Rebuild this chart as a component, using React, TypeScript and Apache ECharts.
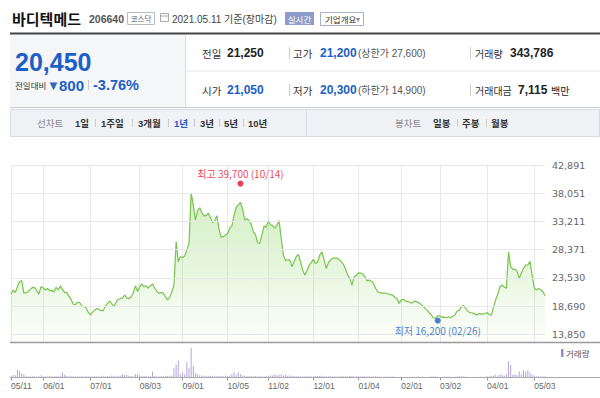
import React, { useEffect, useRef } from "react";
import * as echarts from "echarts";

// ---- data ----
const holidays = [
  "2020-08-17", "2020-09-30", "2020-10-01", "2020-10-02", "2020-10-09",
  "2020-12-25", "2020-12-31", "2021-01-01", "2021-02-11", "2021-02-12",
  "2021-03-01", "2021-05-05",
];
const tickDates = [
  "2020-05-11", "2020-06-01", "2020-07-01", "2020-08-03", "2020-09-01",
  "2020-10-05", "2020-11-02", "2020-12-01", "2021-01-04", "2021-02-01",
  "2021-03-02", "2021-04-01", "2021-05-03",
];
const priceTickLabels = [42891, 38051, 33211, 28371, 23530, 18690, 13850];

const closePrices = [
  20750, 21450, 21000, 22000, 22900, 23050, 20900, 21000, 21150, 21550,
  21900, 21850, 21350, 20750, 22000, 21800, 21450, 21700, 21350, 21400,
  21100, 21900, 21450, 22150, 21550, 21000, 21000, 20400, 19850, 19000,
  18950, 19350, 19300, 18700, 18600, 18400, 17650, 17200, 17650, 18000,
  18250, 18150, 17900, 17900, 18700, 19150, 19550, 19050, 18600, 19300,
  19850, 19950, 20100, 20550, 20100, 19950, 20300, 20900, 22150, 21200,
  22000, 22500, 22000, 22150, 21800, 22150, 22500, 21800, 21200, 20900,
  21000, 20900, 20300, 19750, 20200, 21150, 22300, 29750, 26300, 27150,
  27050, 27300, 28300, 29450, 38050, 36050, 33450, 35050, 35550, 34750,
  34150, 34250, 34600, 33900, 33000, 33350, 34200, 31850, 30500, 30600,
  30900, 31150, 32050, 32450, 34250, 35650, 36050, 36500, 35300, 33450,
  33700, 33350, 32750, 31450, 30900, 29550, 29450, 30900, 32450, 32200,
  33350, 32650, 32500, 32050, 32550, 33350, 30300, 27450, 26500, 26600,
  26600, 25450, 26300, 27150, 27550, 26300, 24900, 24000, 24750, 25700,
  26150, 26700, 26000, 26300, 27450, 28000, 26600, 25150, 26150, 26600,
  26900, 26900, 26900, 26700, 26300, 25850, 25000, 24000, 23450, 22300,
  23750, 23950, 24400, 24350, 24150, 23750, 23000, 23150, 22950, 22600,
  21750, 21150, 21000, 20900, 20900, 20900, 20750, 20650, 20550, 20200,
  19950, 19150, 19750, 19850, 19550, 19450, 19350, 19200, 19550, 19450,
  19300, 19050, 18700, 18300, 18000, 17550, 17200, 16600, 16650, 17000,
  17000, 16750, 16800, 16700, 16850, 16700, 16950, 17150, 17850, 17950,
  18600, 18800, 18300, 17800, 17550, 17550, 17400, 17150, 17350, 17350,
  17300, 17450, 17550, 17200, 17150, 18500, 19750, 20750, 22000, 22300,
  21950, 21750, 28000, 25450, 25000, 25000, 24650, 23450, 24400, 25200,
  25700, 25750, 26350, 24000, 21750, 21450, 21700, 21500, 21200, 20450,
];

const volumes = [
  330000, 650000, 500000, 1900000, 1650000, 1000000, 800000, 330000, 300000, 280000,
  350000, 300000, 260000, 320000, 580000, 300000, 350000, 280000, 400000, 330000,
  300000, 380000, 320000, 420000, 1250000, 670000, 380000, 350000, 300000, 330000,
  280000, 300000, 250000, 300000, 280000, 330000, 300000, 260000, 250000, 300000,
  350000, 280000, 300000, 420000, 330000, 380000, 300000, 500000, 420000, 350000,
  380000, 450000, 820000, 650000, 680000, 380000, 400000, 350000, 920000, 820000,
  650000, 400000, 380000, 420000, 350000, 380000, 1500000, 380000, 330000, 350000,
  330000, 380000, 350000, 420000, 450000, 500000, 2330000, 3330000, 4420000, 820000,
  1330000, 820000, 4000000, 2330000, 7500000, 3000000, 1080000, 820000, 580000, 500000,
  450000, 420000, 400000, 450000, 380000, 420000, 350000, 380000, 400000, 330000,
  420000, 380000, 500000, 820000, 1330000, 670000, 1330000, 820000, 500000, 420000,
  380000, 350000, 400000, 330000, 380000, 350000, 300000, 330000, 350000, 380000,
  420000, 500000, 600000, 820000, 550000, 700000, 820000, 500000, 650000, 450000,
  500000, 420000, 380000, 350000, 400000, 330000, 300000, 350000, 380000, 330000,
  300000, 350000, 420000, 380000, 400000, 450000, 330000, 300000, 350000, 300000,
  330000, 300000, 280000, 350000, 300000, 330000, 380000, 350000, 400000, 420000,
  330000, 300000, 350000, 280000, 300000, 330000, 250000, 300000, 280000, 250000,
  300000, 280000, 250000, 220000, 280000, 250000, 200000, 230000, 250000, 200000,
  150000, 120000, 100000, 120000, 150000, 100000, 120000, 200000, 250000, 220000,
  250000, 200000, 230000, 150000, 120000, 200000, 250000, 300000, 250000, 220000,
  150000, 120000, 250000, 280000, 220000, 150000, 100000, 200000, 250000, 300000,
  330000, 250000, 200000, 220000, 150000, 120000, 100000, 150000, 200000, 180000,
  150000, 200000, 330000, 300000, 350000, 500000, 670000, 500000, 820000, 670000,
  500000, 820000, 4170000, 3170000, 670000, 820000, 670000, 1500000, 820000, 1920000,
  1500000, 1920000, 1330000, 670000, 500000, 300000, 330000, 280000, 300000, 343786,
];

const highMark = { date: "2020-10-14", value: 39700, label: "최고 39,700 (10/14)" };
const lowMark = { date: "2021-02-26", value: 16200, label: "최저 16,200 (02/26)" };

// ---- helpers ----
function buildTradingDays(): string[] {
  const out: string[] = [];
  const d = new Date(Date.UTC(2020, 4, 11));
  const end = new Date(Date.UTC(2021, 4, 11));
  while (d.getTime() <= end.getTime()) {
    const wd = d.getUTCDay();
    const s = d.toISOString().slice(0, 10);
    if (wd !== 0 && wd !== 6 && holidays.indexOf(s) < 0) out.push(s);
    d.setUTCDate(d.getUTCDate() + 1);
  }
  return out;
}

const FONT = "'Liberation Sans', 'Noto Sans CJK KR', sans-serif";
const KFONT = "'Noto Sans CJK KR', 'Liberation Sans', sans-serif";
const BLUE = "#1d5fc5";

const T = (
  x: number, y: number, text: string, size: number, color: string,
  weight: string = "normal", align: string = "left", family: string = FONT
) => ({
  type: "text", x, y, silent: true, z: 10,
  style: {
    text, fill: color, fontSize: size, fontWeight: weight, fontFamily: family,
    align, verticalAlign: "middle", textAlign: align, textVerticalAlign: "middle",
  },
});
const L = (x1: number, y1: number, x2: number, y2: number, color: string, w: number = 1) => ({
  type: "line", silent: true, z: 5, shape: { x1, y1, x2, y2 }, style: { stroke: color, lineWidth: w },
});
const R = (x: number, y: number, w: number, h: number, fill: string, stroke?: string) => ({
  type: "rect", silent: true, z: 1, shape: { x, y, width: w, height: h },
  style: { fill, stroke: stroke || "none", lineWidth: 1 },
});

export default function App() {
  const ref = useRef<HTMLDivElement>(null);

  useEffect(() => {
    if (!ref.current) return;
    const chart = echarts.init(ref.current, undefined, { renderer: "svg" });
    const dates = buildTradingDays();
    const tickSet = new Set(tickDates.map((d) => dates.indexOf(d)));
    const isTick = (i: number) => tickSet.has(i);

    const graphic: any[] = [
      // title row
      T(12, 18, "바디텍메드", 15, "#111", "bold", "left", KFONT),
      T(89, 19, "206640", 10.5, "#555", "bold"),
      R(127.5, 12.5, 27, 12, "#fff", "#bbb"),
      T(141, 18.5, "코스닥", 7.5, "#666", "normal", "center", KFONT),
      R(160.5, 13.5, 8, 8, "#fff", "#aaa"),
      L(160.5, 16, 168.5, 16, "#aaa"),
      T(172, 19, "2021.05.11 기준(장마감)", 10, "#444"),
      R(285, 12, 29, 13, "#8d9dcb"),
      T(299.5, 18.5, "실시간", 8.5, "#fff", "normal", "center", KFONT),
      R(320.5, 12.5, 43, 13, "#fff", "#a7b0cc"),
      T(325, 19, "기업개요", 8.5, "#333", "normal", "left", KFONT),
      T(356, 19, "▾", 8, "#888"),
      // price panel
      L(10, 33.5, 600, 33.5, "#444", 2),
      R(10, 34.5, 175, 72.5, "#f5f6f8"),
      L(185.5, 34.5, 185.5, 107, "#ddd"),
      L(185.5, 71, 600, 71, "#e6e6e6"),
      L(10, 107.5, 600, 107.5, "#ccc"),
      T(15, 62, "20,450", 25, BLUE, "bold"),
      T(15, 85, "전일대비", 8.5, "#333", "normal", "left", KFONT),
      T(47, 85, "▼", 13, "#3465c6"),
      T(59, 85, "800", 15, BLUE, "bold"),
      L(88.5, 80, 88.5, 90, "#ccc"),
      T(93, 85, "-3.76%", 14.5, BLUE, "bold"),
      T(202, 53, "전일", 10.5, "#333", "normal", "left", KFONT),
      T(227, 53, "21,250", 12, "#222", "bold"),
      L(289.5, 47, 289.5, 59, "#ccc"),
      T(293, 53, "고가", 10.5, "#333", "normal", "left", KFONT),
      T(320, 53, "21,200", 12, BLUE, "bold"),
      T(358, 53, "(상한가 27,600)", 10, "#555"),
      L(470.5, 47, 470.5, 59, "#ccc"),
      T(475, 53, "거래량", 10, "#333", "normal", "left", KFONT),
      T(510, 53, "343,786", 12, "#222", "bold"),
      T(202, 90, "시가", 10.5, "#333", "normal", "left", KFONT),
      T(227, 90, "21,050", 12, BLUE, "bold"),
      L(289.5, 84, 289.5, 96, "#ccc"),
      T(293, 90, "저가", 10.5, "#333", "normal", "left", KFONT),
      T(320, 90, "20,300", 12, BLUE, "bold"),
      T(358, 90, "(하한가 14,900)", 10, "#555"),
      L(470.5, 84, 470.5, 96, "#ccc"),
      T(475, 90, "거래대금", 10, "#333", "normal", "left", KFONT),
      T(518, 90, "7,115", 12, "#222", "bold"),
      T(551, 90, "백만", 10, "#222", "normal", "left", KFONT),
      // tab bar
      R(10.5, 109.5, 589, 27, "#f0f2f6", "#d6dae2"),
      L(306.5, 110, 306.5, 136, "#d6dae2"),
      T(37, 123, "선차트", 9.5, "#888", "normal", "left", KFONT),
      T(75, 123, "1일", 9.5, "#333", "bold"),
      L(95.5, 119, 95.5, 127, "#ccc"),
      T(101, 123, "1주일", 9.5, "#333", "bold"),
      L(132.5, 119, 132.5, 127, "#ccc"),
      T(138, 123, "3개월", 9.5, "#333", "bold"),
      L(168.5, 119, 168.5, 127, "#ccc"),
      T(174, 123, "1년", 9.5, "#2a58be", "bold"),
      L(194.5, 119, 194.5, 127, "#ccc"),
      T(200, 123, "3년", 9.5, "#333", "bold"),
      L(219.5, 119, 219.5, 127, "#ccc"),
      T(224, 123, "5년", 9.5, "#333", "bold"),
      L(243.5, 119, 243.5, 127, "#ccc"),
      T(248, 123, "10년", 9.5, "#333", "bold"),
      T(395, 123, "봉차트", 9.5, "#888", "normal", "left", KFONT),
      T(433, 123, "일봉", 9.5, "#333", "bold", "left", KFONT),
      L(457.5, 119, 457.5, 127, "#ccc"),
      T(462, 123, "주봉", 9.5, "#333", "bold", "left", KFONT),
      L(486.5, 119, 486.5, 127, "#ccc"),
      T(491, 123, "월봉", 9.5, "#333", "bold", "left", KFONT),
      // chart axis lines
      L(10, 342.5, 600, 342.5, "#9a9a9a", 1.5),
      L(10, 377.5, 600, 377.5, "#aaa", 1),
      R(561, 349, 2.5, 8, "#9a89cc"),
      T(566, 353, "거래량", 8.5, "#555", "normal", "left", KFONT),
    ];

    const option: any = {
      animation: false,
      backgroundColor: "#ffffff",
      textStyle: { fontFamily: FONT },
      grid: [
        { left: 11, right: 55, top: 165, bottom: 55.7 },
        { left: 11, right: 55, top: 347.7, bottom: 20.5 },
      ],
      xAxis: [
        {
          type: "category", gridIndex: 0, data: dates, boundaryGap: false,
          axisLine: { show: false }, axisTick: { show: false }, axisLabel: { show: false },
          splitLine: { show: true, interval: (i: number) => isTick(i), lineStyle: { color: "#e8e8e8", width: 1 } },
        },
        {
          type: "category", gridIndex: 1, data: dates, boundaryGap: false,
          axisLine: { show: false },
          axisTick: { show: true, interval: (i: number) => isTick(i), length: 3, lineStyle: { color: "#999" } },
          axisLabel: {
            show: true, interval: (i: number) => isTick(i),
            formatter: (v: string) => v.slice(5).replace("-", "/"),
            align: "left", margin: 4, fontSize: 8.5, color: "#666", fontFamily: FONT,
          },
          splitLine: { show: false },
        },
      ],
      yAxis: [
        {
          type: "value", gridIndex: 0, position: "right", min: 12477, max: 42891,
          splitLine: { show: false }, axisLine: { show: false }, axisTick: { show: false },
          axisLabel: {
            show: true, customValues: priceTickLabels,
            formatter: (v: number) => Math.round(v).toLocaleString("en-US"),
            margin: 7, fontSize: 9.5, color: "#666", fontFamily: "'DejaVu Sans', sans-serif",
          },
        },
        { type: "value", gridIndex: 1, min: 0, max: 7600000, show: false },
      ],
      series: [
        {
          type: "line", xAxisIndex: 0, yAxisIndex: 0, data: closePrices, symbol: "none",
          lineStyle: { color: "#76c54c", width: 1.2 },
          areaStyle: {
            origin: "start",
            color: new echarts.graphic.LinearGradient(0, 0, 0, 1, [
              { offset: 0, color: "rgba(120,205,70,0.48)" },
              { offset: 1, color: "rgba(120,205,70,0.03)" },
            ]),
          },
          markLine: {
            silent: true, symbol: "none", label: { show: false },
            lineStyle: { color: "#e8e8e8", type: "solid", width: 1 },
            data: priceTickLabels.map((v) => ({ yAxis: v })),
          },
          z: 3,
        },
        {
          type: "scatter", xAxisIndex: 0, yAxisIndex: 0,
          data: [[highMark.date, highMark.value]], symbolSize: 6,
          itemStyle: { color: "#e60f2a" },
          label: { show: true, position: "top", distance: 2, formatter: highMark.label, color: "#e60f2a", fontSize: 10, fontFamily: KFONT },
          z: 5,
        },
        {
          type: "scatter", xAxisIndex: 0, yAxisIndex: 0,
          data: [[lowMark.date, lowMark.value]], symbolSize: 6,
          itemStyle: { color: "#2260c4" },
          label: { show: true, position: "bottom", distance: 2, formatter: lowMark.label, color: "#2260c4", fontSize: 10, fontFamily: KFONT },
          z: 5,
        },
        {
          type: "bar", xAxisIndex: 1, yAxisIndex: 1, data: volumes, barWidth: 1,
          itemStyle: { color: "#b4a7d8" },
        },
      ],
      graphic,
    };
    chart.setOption(option);
    return () => chart.dispose();
  }, []);

  return (
    <div
      ref={ref}
      style={{ position: "absolute", left: 0, top: 0, width: 600, height: 398, background: "#fff" }}
    />
  );
}
